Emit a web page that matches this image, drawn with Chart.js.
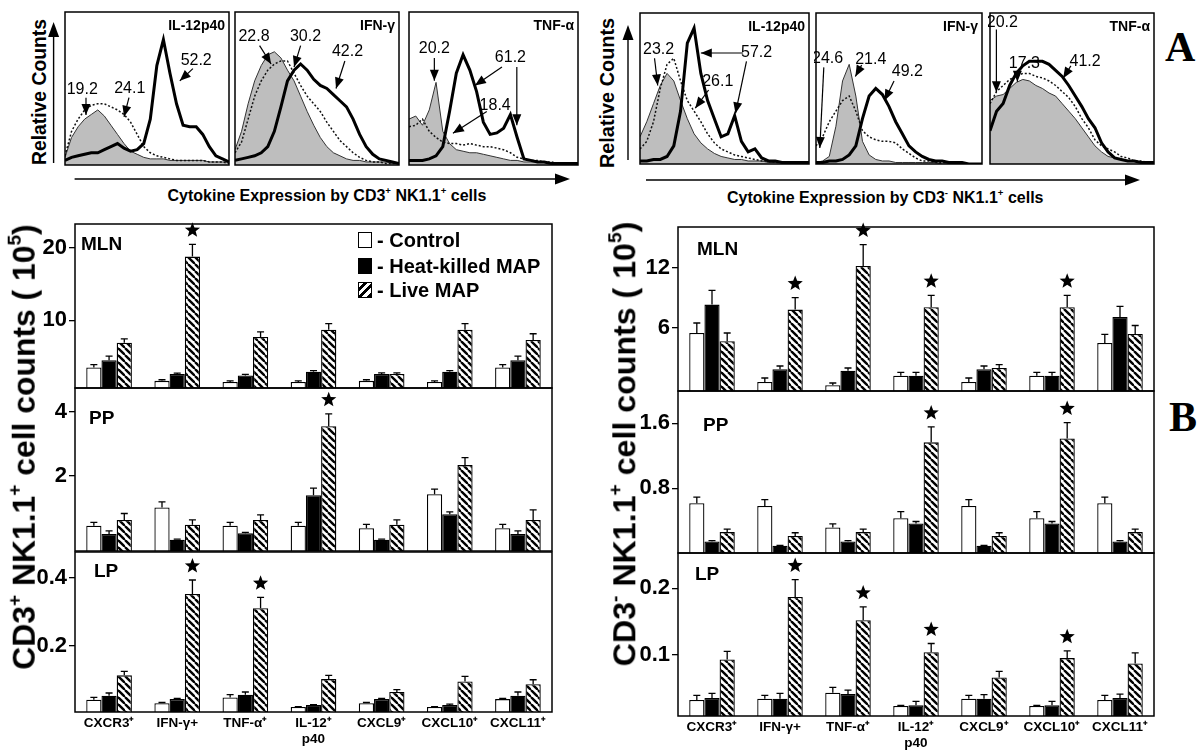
<!DOCTYPE html>
<html>
<head>
<meta charset="utf-8">
<script src="https://cdn.jsdelivr.net/npm/chart.js@4.4.1/dist/chart.umd.min.js"></script>
<style>
body { margin: 0; background: #fff; width: 1200px; height: 756px; position: relative; overflow: hidden; font-family: "Liberation Sans", Arial, sans-serif; }
canvas { position: absolute; }
.t { position: absolute; white-space: nowrap; font-weight: bold; color: #000; line-height: 1; }
.t sup { font-size: 60%; line-height: 0; vertical-align: 0.75em; }
.box { position: absolute; width: 12px; height: 14px; border: 1.5px solid #000; }
</style>
</head>
<body>
<svg id="axes" width="1200" height="756" style="position:absolute;left:0;top:0"></svg>
<script>
// ---------- panel B data ----------
const categories = ['CXCR3⁺', 'IFN-γ+', 'TNF-α⁺', ['IL-12⁺', 'p40'], 'CXCL9⁺', 'CXCL10⁺', 'CXCL11⁺'];
const seriesNames = ['- Control', '- Heat-killed MAP', '- Live MAP'];

// CD3+ NK1.1+ cells
const posMlnControl = [3.5, 1.65, 1.5, 1.5, 1.65, 1.5, 3.5];
const posMlnControlErr = [0.4, 0.15, 0.15, 0.15, 0.15, 0.15, 0.4];
const posMlnHeat = [4.5, 2.6, 2.4, 2.9, 2.6, 2.9, 4.5];
const posMlnHeatErr = [0.55, 0.1, 0.15, 0.15, 0.15, 0.15, 0.55];
const posMlnLive = [6.9, 18.8, 7.7, 8.7, 2.6, 8.7, 7.3];
const posMlnLiveErr = [0.55, 1.7, 0.7, 0.85, 0.15, 0.85, 0.85];
const posMlnStars = [0, 1, 0, 0, 0, 0, 0];
const posMlnTicks = [10, 20];

const posPpControl = [0.45, 1.02, 0.45, 0.45, 0.37, 1.43, 0.37];
const posPpControlErr = [0.1, 0.17, 0.1, 0.1, 0.12, 0.16, 0.12];
const posPpHeat = [0.19, 0.01, 0.21, 1.4, 0.01, 0.81, 0.19];
const posPpHeatErr = [0.1, 0.02, 0.03, 0.22, 0.02, 0.07, 0.1];
const posPpLive = [0.63, 0.48, 0.63, 3.55, 0.48, 2.34, 0.63];
const posPpLiveErr = [0.2, 0.15, 0.16, 0.39, 0.15, 0.23, 0.31];
const posPpStars = [0, 0, 0, 1, 0, 0, 0];
const posPpTicks = [2, 4];

const posLpControl = [0.04, 0.03, 0.047, 0.019, 0.03, 0.019, 0.042];
const posLpControlErr = [0.007, 0.002, 0.008, 0.001, 0.002, 0.001, 0.002];
const posLpHeat = [0.052, 0.042, 0.055, 0.025, 0.042, 0.025, 0.052];
const posLpHeatErr = [0.008, 0.002, 0.008, 0.001, 0.002, 0.002, 0.011];
const posLpLive = [0.112, 0.352, 0.31, 0.101, 0.063, 0.094, 0.086];
const posLpLiveErr = [0.012, 0.041, 0.032, 0.011, 0.007, 0.015, 0.013];
const posLpStars = [0, 1, 1, 0, 0, 0, 0];
const posLpTicks = [0.2, 0.4];

// CD3- NK1.1+ cells
const negMlnControl = [5.5, 0.6, 0.27, 1.23, 0.6, 1.23, 4.5];
const negMlnControlErr = [1.0, 0.4, 0.23, 0.34, 0.4, 0.34, 0.87];
const negMlnHeat = [8.34, 1.87, 1.73, 1.23, 1.87, 1.23, 7.1];
const negMlnHeatErr = [1.43, 0.33, 0.27, 0.34, 0.33, 0.34, 1.07];
const negMlnLive = [4.67, 7.84, 12.2, 8.07, 2.0, 8.07, 5.4];
const negMlnLiveErr = [0.83, 1.2, 2.14, 1.2, 0.33, 1.2, 0.85];
const negMlnStars = [0, 1, 1, 1, 0, 1, 0];
const negMlnTicks = [6, 12];

const negPpControl = [0.615, 0.58, 0.315, 0.43, 0.58, 0.43, 0.615];
const negPpControlErr = [0.075, 0.08, 0.045, 0.08, 0.08, 0.08, 0.075];
const negPpHeat = [0.143, 0.09, 0.143, 0.364, 0.09, 0.364, 0.143];
const negPpHeatErr = [0.01, 0.005, 0.01, 0.025, 0.005, 0.025, 0.01];
const negPpLive = [0.258, 0.21, 0.258, 1.366, 0.21, 1.415, 0.258];
const negPpLiveErr = [0.037, 0.04, 0.037, 0.19, 0.04, 0.195, 0.037];
const negPpStars = [0, 0, 0, 1, 0, 1, 0];
const negPpTicks = [0.8, 1.6];

const negLpControl = [0.032, 0.034, 0.043, 0.023, 0.034, 0.023, 0.032];
const negLpControlErr = [0.007, 0.005, 0.008, 0.001, 0.005, 0.001, 0.007];
const negLpHeat = [0.035, 0.034, 0.041, 0.024, 0.034, 0.024, 0.035];
const negLpHeatErr = [0.007, 0.008, 0.006, 0.006, 0.006, 0.006, 0.006];
const negLpLive = [0.093, 0.187, 0.152, 0.104, 0.066, 0.095, 0.087];
const negLpLiveErr = [0.012, 0.026, 0.02, 0.013, 0.009, 0.011, 0.016];
const negLpStars = [0, 1, 1, 1, 0, 1, 0];
const negLpTicks = [0.1, 0.2];

// ---------- panel A data (histograms, relative counts per bin) ----------
const histBins = [0, 4, 8, 12, 16, 20, 24, 28, 32, 36, 40, 44, 48, 52, 56, 60, 64, 68, 72, 76, 80, 84, 88, 92, 96, 100];

const posIl12Control = [5, 18, 25, 30, 33, 36, 32, 26, 20, 14, 9, 7, 5, 4, 4, 4, 3, 3, 3, 3, 3, 3, 2, 2, 2, 2];
const posIl12Heat = [6, 22, 30, 36, 39, 40, 40, 38, 36, 33, 28, 20, 12, 8, 6, 5, 4, 3, 3, 3, 3, 3, 2, 2, 2, 1];
const posIl12Live = [3, 5, 6, 7, 8, 8, 10, 12, 14, 11, 9, 10, 14, 30, 65, 82, 60, 40, 26, 25, 25, 20, 12, 6, 4, 2];

const posIfnControl = [10, 22, 40, 55, 65, 72, 74, 70, 62, 55, 45, 35, 26, 18, 12, 8, 6, 4, 3, 3, 2, 2, 2, 2, 1, 1];
const posIfnHeat = [8, 15, 30, 45, 55, 62, 66, 68, 68, 60, 52, 45, 40, 35, 28, 22, 16, 12, 8, 5, 3, 2, 2, 1, 1, 1];
const posIfnLive = [3, 4, 5, 6, 8, 12, 22, 38, 55, 62, 66, 62, 56, 52, 50, 46, 42, 38, 30, 20, 12, 7, 4, 3, 2, 1];

const posTnfControl = [30, 32, 26, 36, 54, 22, 14, 10, 9, 8, 8, 7, 6, 5, 4, 3, 3, 2, 2, 2, 2, 1, 1, 1, 1, 1];
const posTnfHeat = [25, 26, 30, 22, 18, 15, 14, 14, 13, 14, 13, 12, 12, 11, 10, 8, 5, 4, 3, 3, 2, 2, 1, 1, 1, 1];
const posTnfLive = [3, 3, 3, 4, 6, 12, 35, 60, 72, 62, 48, 28, 20, 21, 24, 33, 18, 4, 3, 2, 2, 1, 1, 1, 1, 1];

const negIl12Control = [18, 28, 40, 52, 60, 55, 42, 30, 20, 14, 10, 7, 5, 4, 3, 3, 2, 2, 2, 1, 1, 1, 1, 1, 1, 1];
const negIl12Heat = [10, 15, 28, 50, 66, 70, 55, 42, 35, 28, 20, 14, 10, 8, 6, 5, 4, 3, 2, 2, 1, 1, 1, 1, 1, 1];
const negIl12Live = [2, 2, 3, 3, 5, 12, 35, 80, 90, 60, 42, 30, 18, 20, 32, 15, 8, 10, 4, 2, 2, 1, 1, 1, 1, 1];

const negIfnControl = [1, 2, 5, 25, 55, 66, 45, 15, 6, 3, 2, 2, 1, 1, 1, 1, 1, 1, 1, 0, 0, 0, 0, 0, 0, 0];
const negIfnHeat = [12, 18, 28, 35, 42, 45, 35, 22, 18, 16, 15, 15, 14, 10, 7, 4, 2, 2, 1, 1, 1, 0, 0, 0, 0, 0];
const negIfnLive = [1, 1, 2, 2, 3, 6, 12, 30, 45, 50, 46, 38, 28, 20, 12, 8, 5, 3, 2, 2, 1, 1, 1, 0, 0, 0];

const negTnfControl = [42, 45, 46, 50, 54, 56, 55, 52, 50, 47, 45, 40, 35, 30, 24, 18, 12, 8, 5, 4, 3, 2, 2, 1, 1, 1];
const negTnfHeat = [40, 48, 52, 56, 58, 60, 60, 58, 57, 55, 52, 48, 44, 38, 30, 24, 16, 12, 10, 8, 5, 4, 2, 2, 1, 1];
const negTnfLive = [22, 35, 40, 52, 60, 65, 68, 68, 68, 66, 62, 58, 52, 45, 38, 30, 24, 14, 8, 4, 3, 2, 2, 1, 1, 1];

// percentages shown on the histograms: text, text position, arrows [fromX, fromY, tipX, tipY]
const posIl12Notes = [['19.2', 10.5, 49, [[12.8, 44, 12.8, 32.6]]], ['24.1', 39.5, 50, [[39, 44, 36, 31.5]]], ['52.2', 80, 68.5, [[78, 63, 70, 55]]]];
const posIfnNotes = [['22.8', 11.6, 83.7, [[15, 78, 22, 66]]], ['30.2', 43, 83.7, [[40, 78, 36, 64]]], ['42.2', 68.6, 74, [[67, 68, 61.6, 50]]]];
const posTnfNotes = [['20.2', 15, 76, [[15, 70, 15, 55]]], ['61.2', 60, 70, [[55, 64, 39, 52], [63.8, 64, 63.8, 26]]], ['18.4', 51, 39, [[46, 35, 26, 20.7]]]];
const negIl12Notes = [['23.2', 11, 75.5, [[8.6, 70, 10.5, 52]]], ['57.2', 69, 73.5, [[61, 73.5, 36, 73.5], [63, 68, 56.5, 33.5]]], ['26.1', 46, 54.5, [[40.6, 49, 32.7, 37]]]];
const negIfnNotes = [['24.6', 7, 70, [[4.7, 64, 2.3, 10.6]]], ['21.4', 33, 69, [[27.5, 65.5, 23.7, 58]]], ['49.2', 55, 61, [[47, 55, 41.3, 42]]]];
const negTnfNotes = [['20.2', 7.5, 93.8, [[3.9, 89, 3.9, 47.5]]], ['17.3', 21, 66.7, [[16.7, 62, 16.7, 54.5]]], ['41.2', 58, 67.7, [[49.3, 65, 44.6, 56.8]]]];

// ---------- helpers ----------
const FONT = '"Liberation Sans", Arial, sans-serif';

function makeHatch() {
    const c = document.createElement('canvas');
    c.width = 7; c.height = 7;
    const g = c.getContext('2d');
    g.fillStyle = '#fff';
    g.fillRect(0, 0, 7, 7);
    g.strokeStyle = '#000';
    g.lineWidth = 2.4;
    [-7, 0, 7].forEach(o => {
        g.beginPath(); g.moveTo(o, 0); g.lineTo(o + 7, 7); g.stroke();
    });
    return g.createPattern(c, 'repeat');
}
const hatch = makeHatch();

function addText(html, x, y, o) {
    const el = document.createElement('div');
    el.className = 't';
    el.innerHTML = html;
    el.style.fontSize = o.size + 'px';
    if (o.family) el.style.fontFamily = o.family;
    if (o.weight) el.style.fontWeight = o.weight;
    document.body.appendChild(el);
    const w = el.offsetWidth, h = el.offsetHeight;
    const sx = o.len ? o.len / w : 1;
    const cx = o.align === 'left' ? x + w / 2 : x;
    el.style.left = (cx - w / 2) + 'px';
    el.style.top = (y - h / 2) + 'px';
    el.style.transform = 'rotate(' + (o.rot || 0) + 'deg) scaleX(' + sx + ')';
    return el;
}

function drawStar(ctx, x, y, r1, r2) {
    ctx.beginPath();
    for (let i = 0; i < 10; i++) {
        const r = i % 2 ? r2 : r1;
        const a = -Math.PI / 2 + i * Math.PI / 5;
        ctx.lineTo(x + r * Math.cos(a), y + r * Math.sin(a));
    }
    ctx.closePath();
    ctx.fill();
}

function arrowHead(ctx, fx, fy, tx, ty, len, half) {
    const a = Math.atan2(ty - fy, tx - fx);
    ctx.beginPath();
    ctx.moveTo(tx, ty);
    ctx.lineTo(tx - len * Math.cos(a) + half * Math.sin(a), ty - len * Math.sin(a) - half * Math.cos(a));
    ctx.lineTo(tx - len * Math.cos(a) - half * Math.sin(a), ty - len * Math.sin(a) + half * Math.cos(a));
    ctx.closePath();
    ctx.fill();
}

// frame round the plot area
const framePlugin = {
    id: 'frame',
    afterDraw(chart) {
        const a = chart.chartArea, ctx = chart.ctx;
        ctx.save();
        ctx.strokeStyle = '#000';
        ctx.lineWidth = 1.5;
        ctx.strokeRect(a.left, a.top, a.right - a.left, a.bottom - a.top);
        ctx.restore();
    }
};

// error bars (upper only) and stars
const errorPlugin = {
    id: 'errbars',
    afterDatasetsDraw(chart, args, opts) {
        const ctx = chart.ctx, y = chart.scales.y;
        ctx.save();
        ctx.strokeStyle = '#000';
        ctx.fillStyle = '#000';
        ctx.lineWidth = 1.3;
        chart.data.datasets.forEach((ds, i) => {
            chart.getDatasetMeta(i).data.forEach((bar, j) => {
                const top = y.getPixelForValue(ds.data[j] + ds.errs[j]);
                ctx.beginPath();
                ctx.moveTo(bar.x, bar.y);
                ctx.lineTo(bar.x, top);
                ctx.moveTo(bar.x - 3.5, top);
                ctx.lineTo(bar.x + 3.5, top);
                ctx.stroke();
                if (i === 2 && opts.stars[j]) drawStar(ctx, bar.x, top - 14, 8, 3.4);
            });
        });
        ctx.restore();
    }
};

function makeBarPanel(p) {
    const padL = 62, padR = 4, padT = 16, padB = p.showX ? 50 : 16;
    const cv = document.createElement('canvas');
    cv.width = p.x1 - p.x0 + padL + padR;
    cv.height = p.y1 - p.y0 + padT + padB;
    cv.style.left = (p.x0 - padL) + 'px';
    cv.style.top = (p.y0 - padT) + 'px';
    document.body.appendChild(cv);
    const common = { borderColor: '#000', borderWidth: 1.3, base: p.min };
    const xScale = {
        display: !!p.showX,
        grid: { display: false, drawTicks: false },
        border: { display: false },
        ticks: { color: '#000', padding: 3, maxRotation: 0, autoSkip: false, font: { family: FONT, size: 13.5, weight: 'bold', lineHeight: 1.2 } }
    };
    if (p.showX) xScale.afterFit = s => { s.height = padB; };
    new Chart(cv, {
        type: 'bar',
        data: {
            labels: categories,
            datasets: [
                Object.assign({ label: seriesNames[0], data: p.control, errs: p.controlErr, backgroundColor: '#fff' }, common),
                Object.assign({ label: seriesNames[1], data: p.heat, errs: p.heatErr, backgroundColor: '#000' }, common),
                Object.assign({ label: seriesNames[2], data: p.live, errs: p.liveErr, backgroundColor: hatch }, common)
            ]
        },
        options: {
            responsive: false,
            animation: false,
            devicePixelRatio: 1,
            layout: { padding: { left: 0, right: padR, top: padT, bottom: p.showX ? 0 : padB } },
            datasets: { bar: { categoryPercentage: 0.67, barPercentage: 1 } },
            plugins: { legend: { display: false }, tooltip: { enabled: false }, errbars: { stars: p.stars } },
            scales: {
                x: xScale,
                y: {
                    min: p.min,
                    max: p.max,
                    afterBuildTicks: s => { s.ticks = p.ticks.map(v => ({ value: v })); },
                    afterFit: s => { s.width = padL; },
                    grid: { drawOnChartArea: false, tickLength: 6, color: '#000', lineWidth: 1.3 },
                    border: { display: false },
                    ticks: { color: '#000', padding: 2, font: { family: FONT, size: 22, weight: 'bold' }, callback: v => String(v) }
                }
            }
        },
        plugins: [framePlugin, errorPlugin]
    });
}

// text and arrows inside each histogram
const notesPlugin = {
    id: 'notes',
    afterDraw(chart, args, opts) {
        const ctx = chart.ctx, xs = chart.scales.x, ys = chart.scales.y, a = chart.chartArea;
        ctx.save();
        ctx.fillStyle = '#000';
        ctx.strokeStyle = '#000';
        ctx.font = 'bold 14px ' + FONT;
        ctx.textAlign = 'right';
        ctx.textBaseline = 'middle';
        ctx.fillText(opts.title, a.right - 4, a.top + 14);
        ctx.font = '16px ' + FONT;
        ctx.textAlign = 'center';
        ctx.lineWidth = 1.2;
        opts.items.forEach(([txt, tx, ty, arrows]) => {
            ctx.fillText(txt, xs.getPixelForValue(tx), ys.getPixelForValue(ty));
            arrows.forEach(([fx, fy, px, py]) => {
                const x0 = xs.getPixelForValue(fx), y0 = ys.getPixelForValue(fy);
                const x1 = xs.getPixelForValue(px), y1 = ys.getPixelForValue(py);
                ctx.beginPath(); ctx.moveTo(x0, y0); ctx.lineTo(x1, y1); ctx.stroke();
                arrowHead(ctx, x0, y0, x1, y1, 11, 4.5);
            });
        });
        ctx.restore();
    }
};

function toPoints(vals) {
    return vals.map((v, i) => ({ x: histBins[i], y: v }));
}

function makeHist(h) {
    const pad = 2;
    const cv = document.createElement('canvas');
    cv.width = h.x1 - h.x0 + 2 * pad;
    cv.height = h.y1 - h.y0 + 2 * pad;
    cv.style.left = (h.x0 - pad) + 'px';
    cv.style.top = (h.y0 - pad) + 'px';
    document.body.appendChild(cv);
    new Chart(cv, {
        type: 'line',
        data: {
            datasets: [
                { data: toPoints(h.live), borderColor: '#000', borderWidth: 3, fill: false, order: 0 },
                { data: toPoints(h.heat), borderColor: '#111', borderWidth: 1.5, borderDash: [2, 2], fill: false, order: 1 },
                { data: toPoints(h.control), borderColor: '#333', borderWidth: 1, fill: 'origin', backgroundColor: '#bebebe', order: 2 }
            ]
        },
        options: {
            responsive: false,
            animation: false,
            devicePixelRatio: 1,
            layout: { padding: pad },
            elements: { point: { radius: 0 }, line: { tension: 0 } },
            plugins: { legend: { display: false }, tooltip: { enabled: false }, notes: { title: h.title, items: h.notes } },
            scales: {
                x: { type: 'linear', min: 0, max: 100, display: false },
                y: { min: 0, max: 100, display: false }
            }
        },
        plugins: [framePlugin, notesPlugin]
    });
}

// ---------- panel A ----------
const histPanels = [
    { x0: 65, x1: 229.6, y0: 12, y1: 165, title: 'IL-12p40', control: posIl12Control, heat: posIl12Heat, live: posIl12Live, notes: posIl12Notes },
    { x0: 235.4, x1: 400, y0: 12, y1: 165, title: 'IFN-γ', control: posIfnControl, heat: posIfnHeat, live: posIfnLive, notes: posIfnNotes },
    { x0: 408.7, x1: 577.9, y0: 12, y1: 165, title: 'TNF-α', control: posTnfControl, heat: posTnfHeat, live: posTnfLive, notes: posTnfNotes },
    { x0: 640.2, x1: 809.7, y0: 13, y1: 164, title: 'IL-12p40', control: negIl12Control, heat: negIl12Heat, live: negIl12Live, notes: negIl12Notes },
    { x0: 816.2, x1: 982.7, y0: 13, y1: 164, title: 'IFN-γ', control: negIfnControl, heat: negIfnHeat, live: negIfnLive, notes: negIfnNotes },
    { x0: 989.6, x1: 1154.2, y0: 13, y1: 164, title: 'TNF-α', control: negTnfControl, heat: negTnfHeat, live: negTnfLive, notes: negTnfNotes }
];
histPanels.forEach(makeHist);

// axis arrows of panel A
const svg = document.getElementById('axes');
[[53.6, 163, 53.6, 22], [74.6, 179, 570, 179], [628, 160, 628, 25], [646, 180, 1140, 180]].forEach(([x0, y0, x1, y1]) => {
    const a = Math.atan2(y1 - y0, x1 - x0), len = 15, half = 5.5;
    const bx = x1 - len * Math.cos(a), by = y1 - len * Math.sin(a);
    svg.insertAdjacentHTML('beforeend',
        `<line x1="${x0}" y1="${y0}" x2="${bx}" y2="${by}" stroke="#000" stroke-width="1.4"/>` +
        `<polygon points="${x1},${y1} ${bx + half * Math.sin(a)},${by - half * Math.cos(a)} ${bx - half * Math.sin(a)},${by + half * Math.cos(a)}" fill="#000"/>`);
});

addText('Relative Counts', 38, 92, { size: 20, rot: -90, len: 146 });
addText('Relative Counts', 606, 93, { size: 20, rot: -90, len: 150 });
addText('Cytokine Expression by CD3<sup>+</sup> NK1.1<sup>+</sup> cells', 327, 196, { size: 16 });
addText('Cytokine Expression by CD3<sup>-</sup> NK1.1<sup>+</sup> cells', 885, 198, { size: 16 });
addText('A', 1180, 47, { size: 42, family: '"Liberation Serif", serif' });
addText('B', 1183, 417, { size: 42, family: '"Liberation Serif", serif' });

// ---------- panel B ----------
const barPanels = [
    { x0: 74.6, x1: 552, y0: 224.3, y1: 388.3, min: 0.66, max: 23.3, ticks: posMlnTicks, stars: posMlnStars, control: posMlnControl, controlErr: posMlnControlErr, heat: posMlnHeat, heatErr: posMlnHeatErr, live: posMlnLive, liveErr: posMlnLiveErr },
    { x0: 74.6, x1: 552, y0: 388.3, y1: 552, min: -0.34, max: 4.745, ticks: posPpTicks, stars: posPpStars, control: posPpControl, controlErr: posPpControlErr, heat: posPpHeat, heatErr: posPpHeatErr, live: posPpLive, liveErr: posPpLiveErr },
    { x0: 74.6, x1: 552, y0: 552, y1: 712.3, min: 0.004, max: 0.4756, ticks: posLpTicks, stars: posLpStars, showX: true, control: posLpControl, controlErr: posLpControlErr, heat: posLpHeat, heatErr: posLpHeatErr, live: posLpLive, liveErr: posLpLiveErr },
    { x0: 677.5, x1: 1154, y0: 226.7, y1: 390.7, min: -0.3, max: 16.1, ticks: negMlnTicks, stars: negMlnStars, control: negMlnControl, controlErr: negMlnControlErr, heat: negMlnHeat, heatErr: negMlnHeatErr, live: negMlnLive, liveErr: negMlnLiveErr },
    { x0: 677.5, x1: 1154, y0: 390.7, y1: 553, min: 0, max: 2.0, ticks: negPpTicks, stars: negPpStars, control: negPpControl, controlErr: negPpControlErr, heat: negPpHeat, heatErr: negPpHeatErr, live: negPpLive, liveErr: negPpLiveErr },
    { x0: 677.5, x1: 1154, y0: 553, y1: 716, min: 0.008, max: 0.253, ticks: negLpTicks, stars: negLpStars, showX: true, control: negLpControl, controlErr: negLpControlErr, heat: negLpHeat, heatErr: negLpHeatErr, live: negLpLive, liveErr: negLpLiveErr }
];
barPanels.forEach(makeBarPanel);

// tissue labels
[['MLN', 81, 243], ['PP', 89, 417], ['LP', 94, 570], ['MLN', 697, 248], ['PP', 703, 424], ['LP', 695, 573]].forEach(([t, x, y]) => {
    addText(t, x, y, { size: 19, align: 'left' });
});

// legend
const legendRows = [[240, '#fff'], [265.5, '#000'], [290, 'repeating-linear-gradient(135deg, #fff 0 3px, #000 3px 6px)']];
legendRows.forEach(([y, bg], i) => {
    const b = document.createElement('div');
    b.className = 'box';
    b.style.left = '358px';
    b.style.top = (y - 8) + 'px';
    b.style.background = bg;
    document.body.appendChild(b);
    addText(seriesNames[i], 377, y, { size: 20, align: 'left' });
});

// y axis titles
addText('CD3<sup>+</sup> NK1.1<sup>+</sup> cell counts ( 10<sup>5</sup>)', 23, 447, { size: 32, rot: -90, len: 445 });
addText('CD3<sup>-</sup> NK1.1<sup>+</sup> cell counts ( 10<sup>5</sup>)', 624, 444, { size: 32, rot: -90, len: 445 });
</script>
</body>
</html>
